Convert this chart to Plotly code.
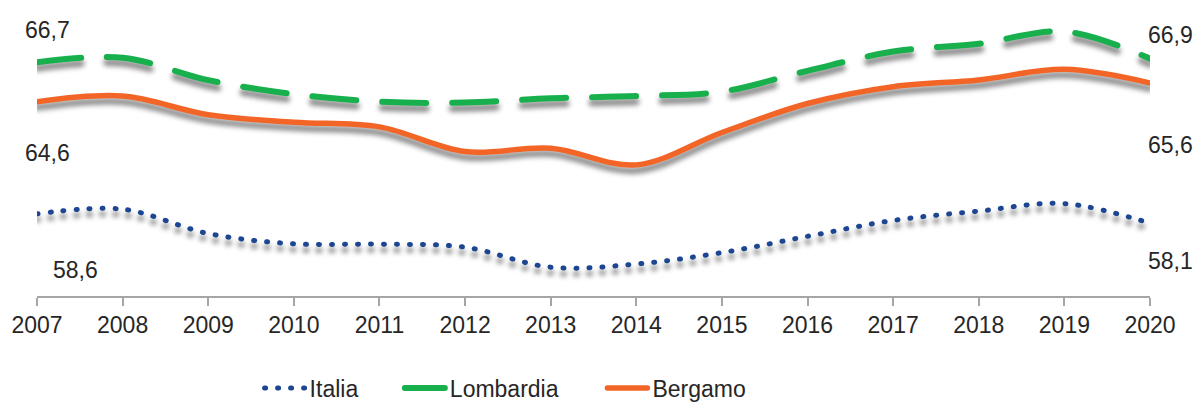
import plotly.graph_objects as go

years = list(range(2007, 2021))
italia = [58.6, 58.85, 57.55, 57.0, 56.98, 56.82, 55.75, 55.92, 56.53, 57.4, 58.25, 58.75, 59.15, 58.1]
lombardia = [66.7, 66.95, 65.75, 65.0, 64.6, 64.55, 64.78, 64.9, 65.14, 66.25, 67.28, 67.7, 68.35, 66.9]
bergamo = [64.6, 64.9, 63.9, 63.5, 63.25, 61.93, 62.11, 61.22, 62.95, 64.5, 65.4, 65.76, 66.33, 65.6]

names = ["Italia", "Lombardia", "Bergamo"]
series = [italia, lombardia, bergamo]
colors = ["#1c4592", "#18b04c", "#f26526"]
dashes = ["1px,12px", "44px,26px", "solid"]
widths = [5, 6, 5.5]
legend_ids = ["legend", "legend2", "legend3"]
legend_x = [0.2, 0.326, 0.508]

FONT = "Liberation Sans"
FS = 23
shadow_off = 0.3

fig = go.Figure()
for s, d, w in zip(series, dashes, widths):
    fig.add_trace(go.Scatter(
        x=years, y=[v - shadow_off for v in s], mode="lines",
        line=dict(color="rgba(0,0,0,0.45)", width=w + 1, dash=d, shape="spline", smoothing=1.0),
        showlegend=False, hoverinfo="skip"))
for n, s, c, d, w, lg in zip(names, series, colors, dashes, widths, legend_ids):
    fig.add_trace(go.Scatter(
        x=years, y=s, mode="lines", name=n, legend=lg,
        line=dict(color=c, width=w, dash=d, shape="spline", smoothing=1.0)))

fmt = lambda v: f"{v:.1f}".replace(".", ",")
label_offsets = {
    "Italia": ((38, -56), (20, -38)),
    "Lombardia": ((10, 32), (20, 24)),
    "Bergamo": ((10, -51), (20, -62)),
}
for n, s in zip(names, series):
    (sx, sy), (ex, ey) = label_offsets[n]
    fig.add_annotation(x=years[0], y=s[0], text=fmt(s[0]), showarrow=False,
                       xshift=sx, yshift=sy, font=dict(family=FONT, size=FS, color="#262626"))
    fig.add_annotation(x=years[-1], y=s[-1], text=fmt(s[-1]), showarrow=False,
                       xshift=ex, yshift=ey, font=dict(family=FONT, size=FS, color="#262626"))

legend_common = dict(orientation="h", xanchor="left", y=-0.322, yanchor="middle",
                     font=dict(family=FONT, size=FS, color="#262626"), itemwidth=40,
                     bgcolor="rgba(0,0,0,0)", borderwidth=0)

fig.update_layout(
    width=1197, height=403,
    margin=dict(l=37, r=47, t=10, b=107, autoexpand=False),
    paper_bgcolor="white", plot_bgcolor="white",
    font=dict(family=FONT, size=FS, color="#262626"),
    xaxis=dict(range=[2007, 2020], tickmode="array", tickvals=years,
               ticktext=[str(y) for y in years], showgrid=False, zeroline=False,
               showline=True, linecolor="#a6a6a6", linewidth=1.5,
               ticks="outside", ticklen=8, tickcolor="#a6a6a6", tickwidth=1.5,
               tickfont=dict(family=FONT, size=FS, color="#262626")),
    yaxis=dict(range=[54.21, 69.5], visible=False, showgrid=False, zeroline=False),
    legend=dict(x=legend_x[0], **legend_common),
    legend2=dict(x=legend_x[1], **legend_common),
    legend3=dict(x=legend_x[2], **legend_common),
    showlegend=True,
)

post = """
document.body.style.margin = '0';
document.body.style.padding = '0';
var gd = document.getElementById('{plot_id}');
function fx(){
  var svg = gd.querySelector('svg.main-svg');
  var ns = 'http://www.w3.org/2000/svg';
  if(!document.getElementById('shblur')){
    var defs = document.createElementNS(ns,'defs');
    var f = document.createElementNS(ns,'filter');
    f.setAttribute('id','shblur');
    f.setAttribute('filterUnits','userSpaceOnUse');
    f.setAttribute('x','-2000'); f.setAttribute('y','-2000');
    f.setAttribute('width','6000'); f.setAttribute('height','6000');
    var b = document.createElementNS(ns,'feGaussianBlur');
    b.setAttribute('stdDeviation','2.5');
    f.appendChild(b); defs.appendChild(f); svg.insertBefore(defs, svg.firstChild);
  }
  var tr = gd.querySelectorAll('.scatterlayer .trace');
  for(var i=0;i<3 && i<tr.length;i++){ tr[i].setAttribute('filter','url(#shblur)'); }
  gd.querySelectorAll('path.js-line').forEach(function(p){ p.style.strokeLinecap='round'; });
}
fx();
gd.on('plotly_afterplot', fx);
"""
fig.write_html("out.html", post_script=post, config={"displayModeBar": False})
